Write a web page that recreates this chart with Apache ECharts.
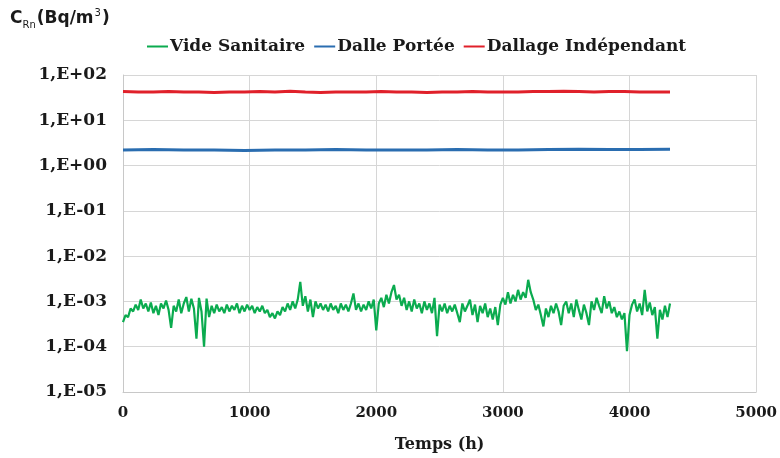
<!DOCTYPE html>
<html>
<head>
<meta charset="utf-8">
<script src="https://cdn.jsdelivr.net/npm/echarts@6/dist/echarts.min.js"></script>
<style>html,body{margin:0;padding:0;background:#fff}#c{width:780px;height:458px}</style>
</head>
<body>
<div id="c"></div>
<script>
// ---- data ----
const seriesNames = ['Vide Sanitaire', 'Dalle Portée', 'Dallage Indépendant'];
const xTicks = ['0', '1000', '2000', '3000', '4000', '5000'];
const yTickLabels = ['1,E-05', '1,E-04', '1,E-03', '1,E-02', '1,E-01', '1,E+00', '1,E+01', '1,E+02'];

// Vide Sanitaire: one reading every 20 h, from 0 h
const vsStep = 20;
const vsValues = [
  3.5e-4, 5e-4, 4.5e-4, 7e-4, 6e-4, 8.5e-4, 6.5e-4, 1.1e-3, 7e-4, 9e-4,
  6e-4, 9.5e-4, 5.5e-4, 8e-4, 5e-4, 9e-4, 7e-4, 1.05e-3, 6.5e-4, 2.6e-4,
  8e-4, 6e-4, 1.1e-3, 5.5e-4, 9e-4, 1.25e-3, 6e-4, 1.15e-3, 7e-4, 1.5e-4,
  1.2e-3, 6e-4, 1.0e-4, 1.15e-3, 4.5e-4, 8e-4, 5.5e-4, 8.5e-4, 6e-4, 7.5e-4,
  5.5e-4, 8.5e-4, 6e-4, 8e-4, 6.5e-4, 9e-4, 5.5e-4, 8e-4, 6e-4, 8.5e-4,
  6.5e-4, 8e-4, 5.5e-4, 7.5e-4, 6e-4, 8e-4, 5.5e-4, 6.5e-4, 4.5e-4, 5.5e-4,
  4.2e-4, 6e-4, 5e-4, 7.5e-4, 6e-4, 9e-4, 6.5e-4, 1.0e-3, 7e-4, 1.1e-3,
  2.7e-3, 8e-4, 1.3e-3, 6e-4, 1.1e-3, 4.5e-4, 1.0e-3, 7e-4, 9e-4, 6.5e-4,
  8.5e-4, 6e-4, 9e-4, 6.5e-4, 8e-4, 5.5e-4, 9e-4, 6.5e-4, 8.5e-4, 6e-4,
  9e-4, 1.5e-3, 6.5e-4, 9e-4, 6e-4, 8.5e-4, 6.5e-4, 1.0e-3, 7e-4, 1.1e-3,
  2.3e-4, 9e-4, 1.2e-3, 7.5e-4, 1.4e-3, 9e-4, 1.6e-3, 2.3e-3, 1.1e-3, 1.4e-3,
  8e-4, 1.2e-3, 6.5e-4, 1.0e-3, 6e-4, 1.1e-3, 7e-4, 9e-4, 5.5e-4, 1.0e-3,
  6.5e-4, 9e-4, 5.5e-4, 1.2e-3, 1.7e-4, 8.5e-4, 6e-4, 9e-4, 5.5e-4, 8e-4,
  6e-4, 8.5e-4, 5.5e-4, 3.5e-4, 9e-4, 6e-4, 8e-4, 1.1e-3, 5e-4, 8.5e-4,
  3.5e-4, 8e-4, 5.5e-4, 9e-4, 4.5e-4, 7e-4, 4e-4, 7.5e-4, 3e-4, 8.5e-4,
  1.2e-3, 8.5e-4, 1.6e-3, 9e-4, 1.4e-3, 1.0e-3, 1.8e-3, 1.1e-3, 1.6e-3, 1.2e-3,
  3.0e-3, 1.6e-3, 1.1e-3, 6.5e-4, 8.5e-4, 5e-4, 2.8e-4, 7e-4, 4.5e-4, 8e-4,
  5.5e-4, 9e-4, 6e-4, 3e-4, 8e-4, 1.0e-3, 5.5e-4, 9e-4, 4.5e-4, 1.1e-3,
  6.5e-4, 4e-4, 8.5e-4, 5.5e-4, 3e-4, 1.0e-3, 6.5e-4, 1.2e-3, 8e-4, 5.5e-4,
  1.3e-3, 7e-4, 1.0e-3, 5.5e-4, 7.5e-4, 4.5e-4, 6e-4, 4e-4, 5.5e-4, 8e-5,
  5e-4, 8.5e-4, 1.1e-3, 6e-4, 9e-4, 5e-4, 1.8e-3, 6e-4, 9.5e-4, 5e-4,
  7.5e-4, 1.5e-4, 6.5e-4, 4e-4, 8e-4, 4.5e-4, 9e-4
];

// Dalle Portée: one reading every 240 h
const dpStep = 240;
const dpValues = [2.2, 2.25, 2.2, 2.2, 2.15, 2.2, 2.2, 2.25, 2.2, 2.2, 2.2, 2.25, 2.2, 2.2, 2.25, 2.3, 2.25, 2.25, 2.3];

// Dallage Indépendant: one reading every 120 h
const diStep = 120;
const diValues = [
  43, 42, 42, 43, 42, 42, 41, 42, 42, 43, 42, 44, 42, 41, 42, 42, 42, 43, 42, 42,
  41, 42, 42, 43, 42, 42, 42, 43, 43, 44, 43, 42, 43, 43, 42, 42, 42
];

const colors = ['#0bab4f', '#2a6db0', '#e0202a'];

function toPairs(vals, step) { return vals.map((v, i) => [i * step, v]); }

const chart = echarts.init(document.getElementById('c'), null, { renderer: 'canvas' });
const serif = 'DejaVu Serif';
const txt = '#1a1a1a';
chart.setOption({
  backgroundColor: '#ffffff',
  animation: false,
  graphic: [{
    type: 'text', left: 10, top: 8,
    style: {
      text: '{a|C}{b|Rn}{a|(Bq/m}{c|3}{a|)}',
      rich: {
        a: { fontFamily: 'DejaVu Sans', fontWeight: 'bold', fontSize: 17, fill: txt, lineHeight: 22 },
        b: { fontFamily: 'DejaVu Sans', fontSize: 10, fill: txt, verticalAlign: 'bottom', lineHeight: 22, padding: [8, 1, 0, 0] },
        c: { fontFamily: 'DejaVu Sans', fontSize: 10, fill: txt, verticalAlign: 'top', lineHeight: 22, padding: [0, 1, 8, 1] }
      }
    }
  }],
  legend: {
    data: seriesNames,
    left: 142, top: 33,
    icon: 'rect', itemWidth: 21, itemHeight: 2, itemGap: 9,
    textStyle: { fontFamily: serif, fontWeight: 'bold', fontSize: 17, color: txt, padding: [0, 0, 0, -3] }
  },
  grid: { left: 123, right: 23, top: 75, bottom: 61, containLabel: false },
  xAxis: {
    type: 'value', min: 0, max: 5000, interval: 1000,
    name: 'Temps (h)', nameLocation: 'middle', nameGap: 45,
    nameTextStyle: { fontFamily: serif, fontWeight: 'bold', fontSize: 16, color: txt },
    axisLine: { show: true, lineStyle: { color: '#c8c8c8', width: 1 } },
    axisTick: { show: false },
    axisLabel: {
      margin: 14, fontFamily: serif, fontWeight: 'bold', fontSize: 15, color: txt,
      formatter: (v) => xTicks[Math.round(v / 1000)]
    },
    splitLine: { show: true, lineStyle: { color: '#d6d6d6', width: 1 } }
  },
  yAxis: {
    type: 'log', logBase: 10, min: 1e-5, max: 100,
    axisLine: { show: true, lineStyle: { color: '#c8c8c8', width: 1 } },
    axisTick: { show: false },
    axisLabel: {
      margin: 16, fontFamily: serif, fontWeight: 'bold', fontSize: 17, color: txt,
      formatter: (v) => yTickLabels[Math.round(Math.log10(v)) + 5]
    },
    splitLine: { show: true, lineStyle: { color: '#d6d6d6', width: 1 } }
  },
  series: [
    { name: seriesNames[0], type: 'line', data: toPairs(vsValues, vsStep), showSymbol: false, symbol: 'none',
      lineStyle: { color: colors[0], width: 2.2 }, itemStyle: { color: colors[0] } },
    { name: seriesNames[1], type: 'line', data: toPairs(dpValues, dpStep), showSymbol: false, symbol: 'none',
      lineStyle: { color: colors[1], width: 3 }, itemStyle: { color: colors[1] } },
    { name: seriesNames[2], type: 'line', data: toPairs(diValues, diStep), showSymbol: false, symbol: 'none',
      lineStyle: { color: colors[2], width: 3 }, itemStyle: { color: colors[2] } }
  ]
});
</script>
</body>
</html>
